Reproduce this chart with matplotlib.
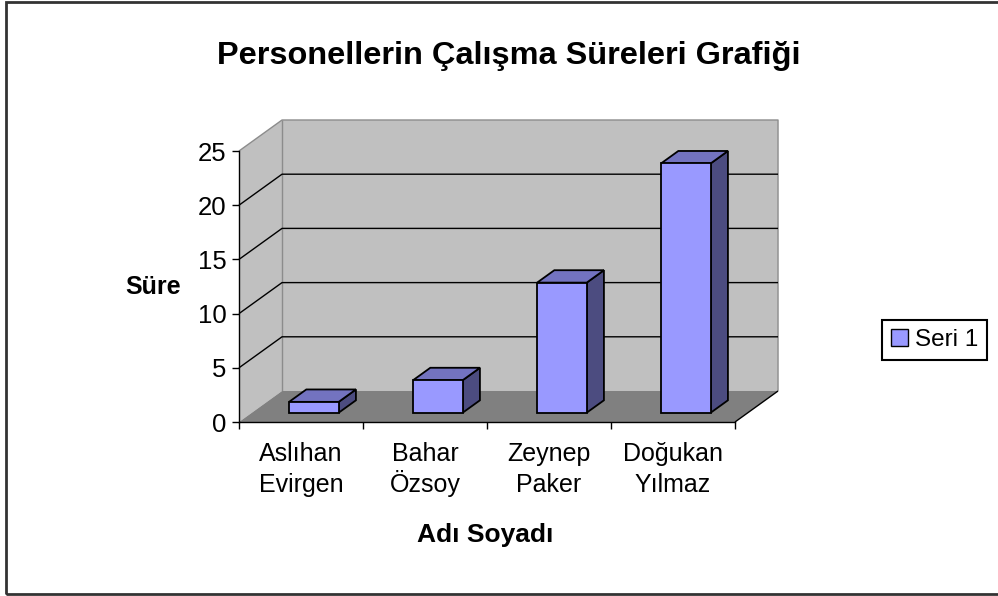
import matplotlib
matplotlib.use("Agg")
import matplotlib.pyplot as plt
from matplotlib.patches import Polygon, Patch, Rectangle

title = "Personellerin Çalışma Süreleri Grafiği"
first_names = ["Aslıhan", "Bahar", "Zeynep", "Doğukan"]
last_names = ["Evirgen", "Özsoy", "Paker", "Yılmaz"]
hours = [1, 3, 12, 23]
yticks = [0, 5, 10, 15, 20, 25]
series_name = "Seri 1"

plt.rcParams['font.family'] = ['Liberation Sans', 'DejaVu Sans']

W, H = 998, 596
fig = plt.figure(figsize=(W / 100, H / 100), dpi=100)
ax = fig.add_axes([239 / W, (H - 422) / H, 496 / W, 271 / H])
n = len(hours)
ymax = yticks[-1]
ax.set_xlim(0, n)
ax.set_ylim(0, ymax)
ax.patch.set_visible(False)

# depth of the 3d box, in data units
DX, DY = 0.347, 2.86


def poly(pts, fc, ec='none', lw=0, z=1):
    ax.add_patch(Polygon(pts, closed=True, facecolor=fc, edgecolor=ec,
                         linewidth=lw, zorder=z, clip_on=False))


def line(xs, ys, color='black', lw=1, z=1):
    ax.plot(xs, ys, color=color, lw=lw, zorder=z, clip_on=False,
            solid_capstyle='butt')


# walls
poly([(0, 0), (0, ymax), (DX, ymax + DY), (DX, DY)], '#c0c0c0', z=0.5)
poly([(DX, DY), (DX, ymax + DY), (n + DX, ymax + DY), (n + DX, DY)], '#c0c0c0', z=0.5)
line([0, DX, n + DX, n + DX], [ymax, ymax + DY, ymax + DY, DY], color='#8c8c8c', z=0.6)
line([DX, DX], [DY, ymax + DY], color='#8c8c8c', z=0.6)

# gridlines on side and back wall
for v in yticks[1:-1]:
    line([0, DX, n + DX], [v, v + DY, v + DY], z=0.7)

# floor
poly([(0, 0), (n, 0), (n + DX, DY), (DX, DY)], '#808080', z=0.8)
line([n, n + DX], [0, DY], z=0.9)

# bars
f0, f1 = 0.3, 0.7
for i, h in enumerate(hours):
    x0, x1 = i + 0.3, i + 0.7
    ox, oy = f0 * DX, f0 * DY
    bx, by = f1 * DX, f1 * DY
    z = 3 + i
    poly([(x1 + ox, oy), (x1 + bx, by), (x1 + bx, h + by), (x1 + ox, h + oy)],
         '#4c4c80', 'black', 1.3, z)
    poly([(x0 + ox, h + oy), (x1 + ox, h + oy), (x1 + bx, h + by), (x0 + bx, h + by)],
         '#7373c0', 'black', 1.3, z)
    poly([(x0 + ox, oy), (x1 + ox, oy), (x1 + ox, h + oy), (x0 + ox, h + oy)],
         '#9999ff', 'black', 1.3, z)

# axes
for s in ['top', 'right']:
    ax.spines[s].set_visible(False)
for s in ['left', 'bottom']:
    ax.spines[s].set_linewidth(1)
    ax.spines[s].set_zorder(2)

ax.set_yticks(yticks)
ax.tick_params(axis='y', length=5, width=1, pad=4, labelsize=18.5)
ax.set_xticks(range(n + 1))
ax.set_xticklabels([])
ax.tick_params(axis='x', which='major', length=5, width=1)

# two-line category names, each line on a fixed baseline
tr = ax.get_xaxis_transform()
for i in range(n):
    ax.text(i + 0.5, -0.144, first_names[i], transform=tr, ha='center',
            va='baseline', fontsize=18)
    ax.text(i + 0.5, -0.258, last_names[i], transform=tr, ha='center',
            va='baseline', fontsize=18)

ax.set_ylabel("Süre", rotation=0, fontsize=18, fontweight='bold', ha='center', va='center')
ax.yaxis.set_label_coords(-0.173, 0.5)
ax.set_xlabel("Adı Soyadı", fontsize=19, fontweight='bold', ha='center', va='center')
ax.xaxis.set_label_coords(0.496, -0.417)

fig.text(509 / W, 1 - 56 / H, title, ha='center', va='center',
         fontsize=23.4, fontweight='bold')

handle = Patch(facecolor='#9999ff', edgecolor='black', label=series_name)
leg = fig.legend(handles=[handle], loc='center left',
                 bbox_to_anchor=(882 / W, 1 - 340 / H), frameon=True,
                 fancybox=False, edgecolor='black', framealpha=1, fontsize=17.5,
                 handlelength=0.7, handleheight=0.7, handletextpad=0.3,
                 borderpad=0.35, borderaxespad=0)
leg.get_frame().set_linewidth(1.5)

# outer chart border
fig.add_artist(Rectangle((6 / W, 2 / H), 1.0, 592 / H, transform=fig.transFigure,
                         fill=False, edgecolor='#333333', lw=2))

fig.savefig('out.png', dpi=100)
